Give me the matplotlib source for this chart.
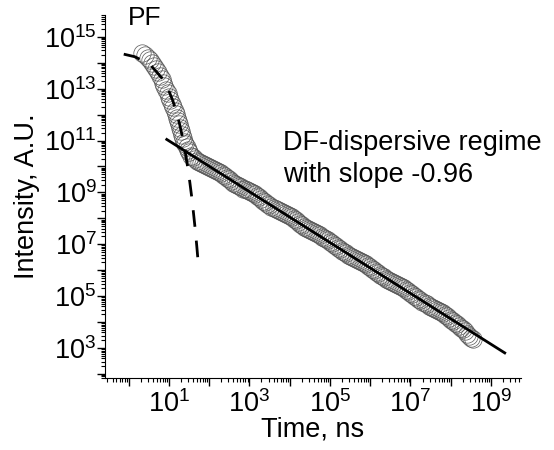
import numpy as np
import matplotlib
matplotlib.use('Agg')
import matplotlib.pyplot as plt
from matplotlib.ticker import LogLocator, NullFormatter

plt.rcParams['font.family'] = ['Liberation Sans', 'DejaVu Sans']
plt.rcParams['mathtext.fontset'] = 'custom'
plt.rcParams['mathtext.rm'] = 'Liberation Sans'

# data (log10 of time in ns, log10 of intensity)
pf_logt = [0.33, 0.40, 0.48, 0.53, 0.58, 0.63, 0.68, 0.73, 0.78, 0.82, 0.85, 0.89,
           0.93, 0.97, 1.00, 1.04, 1.07, 1.11, 1.15, 1.18, 1.20, 1.23, 1.25, 1.28,
           1.30, 1.33, 1.35, 1.38, 1.40, 1.44, 1.47, 1.51]
pf_logi = [14.38, 14.30, 14.19, 14.10, 14.00, 13.89, 13.77, 13.64, 13.50, 13.36, 13.23, 13.10,
           12.96, 12.82, 12.69, 12.55, 12.42, 12.28, 12.15, 12.01, 11.88, 11.75, 11.62, 11.48,
           11.35, 11.21, 11.08, 10.96, 10.85, 10.74, 10.65, 10.57]

df_logt = [1.55, 1.60, 1.65, 1.70, 1.75, 1.80, 1.85, 1.90, 1.95, 2.00, 2.05, 2.10, 2.15, 2.20,
           2.25, 2.30, 2.35, 2.40, 2.45, 2.50, 2.55, 2.60, 2.65, 2.70, 2.75, 2.80, 2.85, 2.90,
           2.95, 3.00, 3.05, 3.10, 3.15, 3.20, 3.25, 3.30, 3.35, 3.40, 3.45, 3.50, 3.55, 3.60,
           3.65, 3.70, 3.75, 3.80, 3.85, 3.90, 3.95, 4.00, 4.05, 4.10, 4.15, 4.20, 4.25, 4.30,
           4.35, 4.40, 4.45, 4.50, 4.55, 4.60, 4.65, 4.70, 4.75, 4.80, 4.85, 4.90, 4.95, 5.00,
           5.05, 5.10, 5.15, 5.20, 5.25, 5.30, 5.35, 5.40, 5.45, 5.50, 5.55, 5.60, 5.65, 5.70,
           5.75, 5.80, 5.85, 5.90, 5.95, 6.00, 6.05, 6.10, 6.15, 6.20, 6.25, 6.30, 6.35, 6.40,
           6.45, 6.50, 6.55, 6.60, 6.65, 6.70, 6.75, 6.80, 6.85, 6.90, 6.95, 7.00, 7.05, 7.10,
           7.15, 7.20, 7.25, 7.30, 7.35, 7.40, 7.45, 7.50, 7.55, 7.60, 7.65, 7.70, 7.75, 7.80,
           7.85, 7.90, 7.95, 8.00, 8.05, 8.10, 8.15, 8.20, 8.25, 8.30, 8.35, 8.40, 8.45, 8.50,
           8.55]
df_logi = [10.40, 10.35, 10.28, 10.22, 10.17, 10.13, 10.09, 10.05, 10.01, 9.97, 9.94, 9.90, 9.86, 9.82,
           9.78, 9.74, 9.69, 9.63, 9.57, 9.50, 9.44, 9.38, 9.32, 9.27, 9.23, 9.19, 9.15, 9.12,
           9.09, 9.06, 9.02, 8.98, 8.93, 8.87, 8.81, 8.75, 8.68, 8.62, 8.56, 8.50, 8.45, 8.41,
           8.37, 8.33, 8.30, 8.26, 8.22, 8.18, 8.14, 8.09, 8.04, 7.98, 7.92, 7.86, 7.80, 7.74,
           7.68, 7.63, 7.58, 7.54, 7.50, 7.46, 7.42, 7.38, 7.34, 7.30, 7.26, 7.21, 7.16, 7.10,
           7.04, 6.98, 6.92, 6.86, 6.80, 6.75, 6.70, 6.65, 6.60, 6.56, 6.52, 6.48, 6.44, 6.40,
           6.36, 6.32, 6.28, 6.23, 6.18, 6.12, 6.06, 6.00, 5.94, 5.88, 5.82, 5.77, 5.72, 5.67,
           5.62, 5.58, 5.54, 5.50, 5.46, 5.42, 5.38, 5.34, 5.30, 5.25, 5.20, 5.14, 5.08, 5.02,
           4.96, 4.90, 4.84, 4.78, 4.73, 4.68, 4.63, 4.59, 4.55, 4.51, 4.47, 4.43, 4.39, 4.34,
           4.29, 4.23, 4.17, 4.10, 4.03, 3.97, 3.91, 3.85, 3.79, 3.72, 3.64, 3.55, 3.47, 3.40,
           3.33]

# PF fit (dashed), time in ns
pf_fit_t = [0.76, 1.43, 3.38, 7.1, 9.44, 12.6, 15.8, 18.8, 22.2, 25.0, 29.6, 33.2,
            37.2, 39.4, 44.2, 46.8, 49.5, 52.5]
pf_fit_logi = [14.33, 14.23, 13.94, 13.37, 13.02, 12.53, 12.05, 11.59, 11.08, 10.65, 9.95, 9.40,
               8.80, 8.46, 7.73, 7.34, 6.93, 6.47]

# DF power-law fit (solid), slope -0.96
df_fit_t = [8.9, 2.2e9]
df_fit_i = [1.1e11, 6.5e2]

x_ticks = [1e0, 1e1, 1e2, 1e3, 1e4, 1e5, 1e6, 1e7, 1e8, 1e9]
x_labels = ['', '$\\mathregular{10^{1}}$', '', '$\\mathregular{10^{3}}$', '',
            '$\\mathregular{10^{5}}$', '', '$\\mathregular{10^{7}}$', '', '$\\mathregular{10^{9}}$']
y_ticks = [1e2, 1e3, 1e4, 1e5, 1e6, 1e7, 1e8, 1e9, 1e10, 1e11, 1e12, 1e13, 1e14, 1e15]
y_labels = ['', '$\\mathregular{10^{3}}$', '', '$\\mathregular{10^{5}}$', '',
            '$\\mathregular{10^{7}}$', '', '$\\mathregular{10^{9}}$', '',
            '$\\mathregular{10^{11}}$', '', '$\\mathregular{10^{13}}$', '',
            '$\\mathregular{10^{15}}$']

fig = plt.figure(figsize=(5.54, 4.5), dpi=100)
ax = fig.add_axes([0.1895, 0.16, 0.7505, 0.807])

t_all = 10 ** np.array(pf_logt + df_logt)
i_all = 10 ** np.array(pf_logi + df_logi)
ax.plot(t_all, i_all, 'o', ms=12.5, mfc='none', mec='#555555', mew=0.5)

ax.plot(pf_fit_t, 10 ** np.array(pf_fit_logi), color='black', lw=2, ls=(0, (6, 5)))
ax.plot(df_fit_t, df_fit_i, color='black', lw=2)

ax.set_xscale('log')
ax.set_yscale('log')
ax.set_xlim(0.26, 5.5e9)
ax.set_ylim(70, 7e15)

ax.set_xticks(x_ticks)
ax.set_xticklabels(x_labels)
ax.set_yticks(y_ticks)
ax.set_yticklabels(y_labels)
ax.xaxis.set_minor_locator(LogLocator(base=10, subs=np.arange(2, 10), numticks=100))
ax.yaxis.set_minor_locator(LogLocator(base=10, subs=np.arange(2, 10), numticks=100))
ax.xaxis.set_minor_formatter(NullFormatter())
ax.yaxis.set_minor_formatter(NullFormatter())

ax.tick_params(which='major', direction='out', length=5.5, width=1, labelsize=19.5)
ax.tick_params(axis='y', which='major', pad=0.5)
ax.tick_params(axis='x', which='major', pad=3)
ax.tick_params(which='minor', direction='out', length=3, width=0.8)
ax.spines['top'].set_visible(False)
ax.spines['right'].set_visible(False)

ax.set_xlabel('Time, ns', fontsize=19.5, labelpad=-1)
ax.set_ylabel('Intensity, A.U.', fontsize=19.5, labelpad=3)

fig.text(0.231, 0.944, 'PF', fontsize=19, va='baseline')
fig.text(0.511, 1 - 150 / 450, 'DF-dispersive regime', fontsize=19.5, va='baseline')
fig.text(0.511, 1 - 182 / 450, 'with slope -0.96', fontsize=19.5, va='baseline')

plt.savefig('out.png', dpi=100)
